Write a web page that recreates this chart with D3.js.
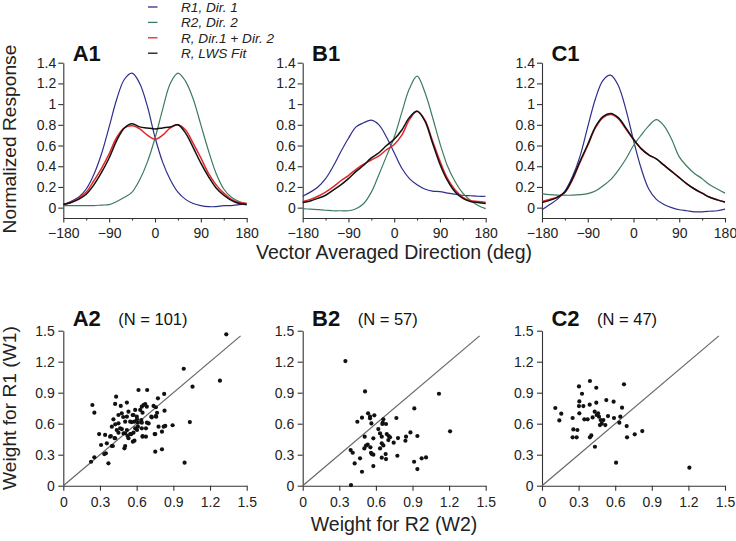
<!DOCTYPE html>
<html><head><meta charset="utf-8">
<script src="https://cdn.jsdelivr.net/npm/d3@7"></script>
<style>
body{margin:0;background:#fff;}
svg{font-family:"Liberation Sans",Arial,Helvetica,sans-serif;}
.axis path,.axis line{stroke:#333;stroke-width:1.1;}
.axis text{fill:#222;font-size:14px;}
</style></head>
<body><svg id="c" width="736" height="541"></svg>
<script>
// ---------- DATA ----------
const dirs = [-180,-165,-150,-135,-120,-105,-90,-75,-60,-45,-30,-15,0,15,30,45,60,75,90,105,120,135,150,165,180];
const dirTicks = [-180,-90,0,90,180];
const dirMinor = [-135,-45,45,135];
const respTicks = [0,0.2,0.4,0.6,0.8,1,1.2,1.4];
const weightTicks = [0,0.3,0.6,0.9,1.2,1.5];

// A1
const a1R1  = [0.03,0.06,0.10,0.18,0.32,0.52,0.78,1.05,1.24,1.30,1.20,0.98,0.68,0.44,0.27,0.15,0.08,0.04,0.02,0.01,0.01,0.02,0.02,0.03,0.03];
const a1R2  = [0.02,0.02,0.02,0.02,0.02,0.025,0.03,0.06,0.10,0.15,0.27,0.44,0.67,0.95,1.20,1.30,1.22,1.05,0.80,0.55,0.33,0.18,0.10,0.06,0.04];
const a1Sum = [0.03,0.05,0.09,0.15,0.26,0.38,0.52,0.68,0.77,0.79,0.76,0.70,0.66,0.70,0.77,0.80,0.75,0.62,0.48,0.33,0.22,0.14,0.08,0.05,0.04];
const a1Fit = [0.03,0.05,0.08,0.13,0.22,0.34,0.48,0.65,0.77,0.81,0.78,0.77,0.76,0.77,0.78,0.80,0.72,0.58,0.43,0.30,0.19,0.12,0.07,0.04,0.03];
// B1
const b1R1  = [0.11,0.15,0.20,0.28,0.40,0.54,0.67,0.78,0.82,0.845,0.80,0.68,0.53,0.38,0.28,0.22,0.18,0.16,0.155,0.14,0.13,0.12,0.115,0.11,0.11];
const b1R2  = [-0.01,-0.015,-0.02,-0.025,-0.03,-0.03,-0.03,-0.01,0.04,0.15,0.32,0.50,0.68,0.92,1.15,1.27,1.12,0.88,0.62,0.40,0.25,0.14,0.07,0.02,-0.01];
const b1Sum = [0.06,0.08,0.11,0.15,0.20,0.26,0.31,0.37,0.42,0.46,0.50,0.56,0.61,0.70,0.85,0.93,0.85,0.65,0.45,0.28,0.17,0.10,0.07,0.06,0.05];
const b1Fit = [0.05,0.065,0.09,0.12,0.17,0.22,0.28,0.35,0.41,0.48,0.53,0.60,0.66,0.75,0.87,0.93,0.84,0.63,0.42,0.26,0.15,0.09,0.06,0.05,0.04];
// C1
const c1R1  = [-0.02,0.03,0.08,0.16,0.30,0.50,0.78,1.05,1.23,1.28,1.18,0.95,0.65,0.38,0.18,0.08,0.03,0.0,-0.02,-0.03,-0.04,-0.04,-0.035,-0.03,-0.015];
const c1R2  = [0.135,0.125,0.12,0.12,0.12,0.125,0.135,0.16,0.21,0.27,0.36,0.47,0.60,0.70,0.79,0.85,0.79,0.66,0.49,0.40,0.33,0.28,0.22,0.18,0.14];
const c1Sum = [0.06,0.08,0.10,0.15,0.27,0.44,0.60,0.77,0.87,0.90,0.86,0.76,0.66,0.57,0.51,0.47,0.41,0.35,0.29,0.23,0.18,0.14,0.10,0.075,0.055];
const c1Fit = [0.05,0.07,0.10,0.15,0.28,0.45,0.61,0.78,0.88,0.91,0.87,0.77,0.66,0.57,0.51,0.47,0.41,0.35,0.29,0.23,0.18,0.14,0.10,0.075,0.055];

// Scatter: [W2, W1]
const a2Points = [[.615,.926],[.686,.926],[.432,.862],[.825,.888],[.238,.781],[.254,.707],[.424,.791],[.52,.804],[.47,.772],[.774,.846],[.656,.781],[.67,.79],[.642,.765],[.683,.765],[.738,.772],[.757,.759],[.828,.726],[.629,.733],[.588,.733],[.533,.716],[.478,.701],[.451,.684],[.574,.684],[.601,.668],[.648,.707],[.724,.662],[.76,.668],[.52,.668],[.41,.642],[.506,.62],[.547,.62],[.582,.62],[.61,.61],[.642,.61],[.684,.61],[.451,.604],[.397,.571],[.465,.555],[.437,.539],[.52,.539],[.588,.555],[.642,.555],[.779,.571],[.834,.578],[.894,.585],[.451,.513],[.506,.507],[.547,.5],[.574,.513],[.293,.5],[.342,.491],[.383,.474],[.424,.459],[.533,.459],[.648,.474],[.752,.5],[.807,.523],[.309,.394],[.356,.41],[.397,.384],[.506,.384],[.582,.436],[.5,.362],[.752,.329],[.807,.352],[.254,.275],[.348,.313],[.227,.232],[.369,.217],[.992,.223],[1.333,1.465],[.985,1.132],[1.281,1.016],[1.057,.958],[1.035,.616],[.49,.665],[.567,.684],[.603,.642],[.638,.635],[.72,.668],[.425,.594],[.479,.548],[.561,.616],[.61,.571],[.676,.555],[.493,.506],[.556,.5],[.603,.539],[.389,.481],[.419,.461],[.526,.481],[.649,.481],[.335,.306],[.405,.384],[.569,.426],[.676,.474],[.747,.5],[.821,.571],[.698,.603],[.756,.674],[.767,.706]];
const b2Points = [[.35,1.206],[.511,.912],[1.117,.89],[.915,.748],[1.208,.526],[.536,.7],[.587,.681],[.552,.652],[.486,.658],[.448,.619],[.563,.603],[.661,.642],[.656,.61],[.683,.597],[.768,.655],[.62,.548],[.634,.506],[.689,.5],[.705,.481],[.648,.474],[.579,.458],[.508,.474],[.781,.461],[.746,.416],[.847,.474],[.883,.516],[.842,.435],[.94,.481],[.533,.397],[.519,.387],[.505,.361],[.555,.371],[.648,.41],[.661,.39],[.702,.442],[.393,.345],[.41,.319],[.56,.319],[.579,.3],[.634,.361],[.68,.306],[.776,.29],[.47,.265],[.426,.216],[.579,.19],[.648,.271],[.683,.258],[.913,.232],[.975,.265],[1.011,.274],[.94,.161],[.486,.135],[.396,.006],[.552,.668],[.653,.597],[.716,.469],[.566,.307]];
const c2Points = [[.109,.752],[.158,.697],[.142,.632],[.303,.961],[.393,1.013],[.445,.948],[.672,.981],[.328,.89],[.306,.816],[.339,.771],[.303,.771],[.391,.784],[.445,.803],[.527,.829],[.587,.813],[.656,.755],[.251,.655],[.306,.7],[.347,.642],[.374,.642],[.432,.716],[.448,.684],[.467,.668],[.481,.635],[.503,.635],[.475,.587],[.519,.587],[.541,.674],[.59,.655],[.642,.668],[.634,.61],[.694,.577],[.257,.545],[.29,.539],[.251,.468],[.284,.468],[.393,.468],[.404,.487],[.697,.468],[.76,.497],[.822,.529],[.434,.377],[.607,.223],[1.208,.174],[.415,.661],[.46,.70],[.49,.60]];

const legendLabels = ["R1, Dir. 1","R2, Dir. 2","R, Dir.1 + Dir. 2","R, LWS Fit"];
const seriesColors = ["#2e2e8c","#3d7b5e","#e3262a","#111111"];
const topTitles = ["A1","B1","C1"];
const bottomTitles = ["A2","B2","C2"];
const nLabels = ["(N = 101)","(N = 57)","(N = 47)"];

// ---------- LAYOUT ----------
const svg = d3.select("#c");
const panelX = [[63.3,246.7],[302.7,485.7],[542,725]];
const topY = [218, 62.7];   // y for -0.1 and 1.4
const botY = [485.7, 330.7]; // y for 0 and 1.5

const topSeries = [[a1R1,a1R2,a1Sum,a1Fit],[b1R1,b1R2,b1Sum,b1Fit],[c1R1,c1R2,c1Sum,c1Fit]];
const scatterSets = [a2Points,b2Points,c2Points];

panelX.forEach((px,i)=>{
  // top panel
  const x = d3.scaleLinear().domain([-180,180]).range(px);
  const y = d3.scaleLinear().domain([-0.1,1.4]).range(topY);
  const g = svg.append("g");
  g.append("g").attr("class","axis").attr("transform",`translate(0,${topY[0]})`)
    .call(d3.axisBottom(x).tickValues(dirTicks).tickSize(4.5).tickPadding(6).tickSizeOuter(0).tickFormat(d3.format("d")));
  g.append("g").attr("class","axis").attr("transform",`translate(0,${topY[0]})`)
    .call(d3.axisBottom(x).tickValues(dirMinor).tickSize(2.5).tickSizeOuter(0).tickFormat(""))
    .select(".domain").remove();
  g.append("g").attr("class","axis").attr("transform",`translate(${px[0]},0)`)
    .call(d3.axisLeft(y).tickValues(respTicks).tickSize(5).tickPadding(2).tickSizeOuter(0).tickFormat(d=>d3.format("")(+d.toFixed(1))));
  const line = d3.line().x((d,k)=>x(dirs[k])).y(d=>y(d)).curve(d3.curveCatmullRom.alpha(0.5));
  topSeries[i].forEach((s,k)=>{
    g.append("path").datum(s).attr("d",line).attr("fill","none")
      .attr("stroke",seriesColors[k]).attr("stroke-width",k>=2?1.5:1.2);
  });
  g.append("text").attr("x",px[0]+9.4).attr("y",61).attr("font-size",22).attr("font-weight","bold")
    .attr("fill","#111").text(topTitles[i]);

  // bottom scatter
  const sx = d3.scaleLinear().domain([0,1.5]).range(px);
  const sy = d3.scaleLinear().domain([0,1.5]).range(botY);
  const h = svg.append("g");
  h.append("g").attr("class","axis").attr("transform",`translate(0,${botY[0]})`)
    .call(d3.axisBottom(sx).tickValues(weightTicks).tickSize(5).tickPadding(6.5).tickSizeOuter(0).tickFormat(d=>d===0?"0":d3.format(".1f")(d)));
  h.append("g").attr("class","axis").attr("transform",`translate(${px[0]},0)`)
    .call(d3.axisLeft(sy).tickValues(weightTicks).tickSize(5).tickPadding(3.5).tickSizeOuter(0).tickFormat(d=>d===0?"0":d3.format(".1f")(d)));
  h.append("line").attr("x1",sx(0)).attr("y1",sy(0)).attr("x2",sx(1.45)).attr("y2",sy(1.45))
    .attr("stroke","#666").attr("stroke-width",1.2);
  h.selectAll("circle.pt").data(scatterSets[i]).join("circle").attr("class","pt")
    .attr("cx",d=>sx(d[0])).attr("cy",d=>sy(d[1])).attr("r",2.1).attr("fill","#111");
  h.append("text").attr("x",px[0]+9.4).attr("y",325.5).attr("font-size",22).attr("font-weight","bold")
    .attr("fill","#111").text(bottomTitles[i]);
  h.append("text").attr("x",px[0]+55).attr("y",324.5).attr("font-size",16.5)
    .attr("fill","#111").text(nLabels[i]);
});

// legend
const lg = svg.append("g");
legendLabels.forEach((t,k)=>{
  const yy = 7 + k*15.4;
  lg.append("line").attr("x1",148).attr("x2",157.5).attr("y1",yy).attr("y2",yy)
    .attr("stroke",seriesColors[k]).attr("stroke-width",1.3);
  lg.append("text").attr("x",181).attr("y",yy+4.8).attr("font-size",13.6).attr("font-style","italic")
    .attr("fill","#222").text(t);
});

// axis titles
svg.append("text").attr("transform","translate(16,139) rotate(-90)").attr("text-anchor","middle")
  .attr("font-size",19.2).attr("fill","#222").text("Normalized Response");
svg.append("text").attr("x",394).attr("y",259).attr("text-anchor","middle")
  .attr("font-size",19.5).attr("fill","#222").text("Vector Averaged Direction (deg)");
svg.append("text").attr("transform","translate(16,408) rotate(-90)").attr("text-anchor","middle")
  .attr("font-size",19.2).attr("fill","#222").text("Weight for R1 (W1)");
svg.append("text").attr("x",394).attr("y",531).attr("text-anchor","middle")
  .attr("font-size",19.5).attr("fill","#222").text("Weight for R2 (W2)");
</script></body></html>
